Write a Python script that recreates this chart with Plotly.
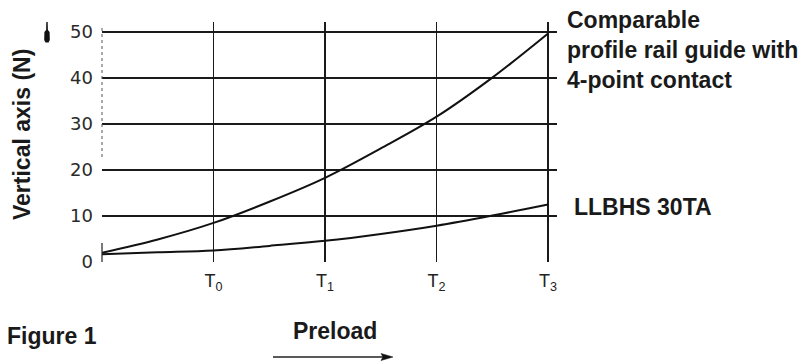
import plotly.graph_objects as go

# ---- data (x in units of the preload tick spacing; 0 = origin, 1..4 = T0..T3)
x_pts = [0, 0.5, 1, 1.5, 2, 2.5, 3, 3.5, 4]
comparable = [2.0, 4.9, 8.5, 13.1, 18.3, 24.7, 31.6, 40.1, 49.7]
llbhs = [1.7, 2.1, 2.5, 3.5, 4.6, 6.1, 7.9, 10.1, 12.5]

x_tick_vals = [1, 2, 3, 4]
x_tick_text = ["T<sub>0</sub>", "T<sub>1</sub>", "T<sub>2</sub>", "T<sub>3</sub>"]
y_tick_vals = [0, 10, 20, 30, 40, 50]
y_tick_text = ["0", "10", "20", "30", "40", "50"]

label_comparable = "Comparable<br>profile rail guide with<br>4-point contact"
label_llbhs = "LLBHS 30TA"
y_title = "Vertical axis (N)"
x_title = "Preload"
fig_title = "Figure 1"

# ---- layout geometry
W, H = 805, 362
L, R, T, B = 102, 248, 22, 100
PW, PH = W - L - R, H - T - B


def px(xp):
    return (xp - L) / PW


def py(yp):
    return (H - B - yp) / PH


BOLD = dict(family="Liberation Sans, Arial, sans-serif", size=23, color="#1a1a1a",
            weight="bold")
LINE = "#1a1a1a"

fig = go.Figure()
fig.add_trace(go.Scatter(x=x_pts, y=comparable, mode="lines",
                         line=dict(color="#111", width=2, shape="spline"),
                         showlegend=False, hoverinfo="skip"))
fig.add_trace(go.Scatter(x=x_pts, y=llbhs, mode="lines",
                         line=dict(color="#111", width=2, shape="spline"),
                         showlegend=False, hoverinfo="skip"))

fig.update_xaxes(range=[0, 4.08], tickvals=x_tick_vals, ticktext=x_tick_text,
                 showgrid=True, gridcolor=LINE, gridwidth=1.3,
                 zeroline=False, showline=False, ticks="",
                 tickfont=dict(family="Liberation Sans Narrow, Liberation Sans, sans-serif",
                               size=18, color="#222"),
                 ticklabelstandoff=6, fixedrange=True)
fig.update_yaxes(range=[0, 52.2], tickvals=y_tick_vals, ticktext=y_tick_text,
                 showgrid=True, gridcolor=LINE, gridwidth=1.3,
                 zeroline=False, showline=False, ticks="",
                 tickfont=dict(family="DejaVu Sans, sans-serif", size=18, color="#2a2a2a"),
                 ticklabelstandoff=8, fixedrange=True)

annotations = [
    dict(text=label_comparable, x=px(565), y=py(50), xref="paper", yref="paper",
         xanchor="left", yanchor="middle", align="left", showarrow=False, font=BOLD),
    dict(text=label_llbhs, x=px(572), y=py(207), xref="paper", yref="paper",
         xanchor="left", yanchor="middle", align="left", showarrow=False, font=BOLD),
    dict(text=y_title, x=px(22), y=py(135), xref="paper", yref="paper",
         xanchor="center", yanchor="middle", textangle=-90, showarrow=False, font=BOLD),
    dict(text=x_title, x=px(334.5), y=py(330.5), xref="paper", yref="paper",
         xanchor="center", yanchor="middle", showarrow=False, font=BOLD),
    dict(text=fig_title, x=px(5), y=py(336), xref="paper", yref="paper",
         xanchor="left", yanchor="middle", showarrow=False, font=BOLD),
]


def path_px(points):
    s = ""
    for i, (a, b) in enumerate(points):
        s += ("M" if i == 0 else "L") + f"{px(a):.5f},{py(b):.5f} "
    return s + "Z"


# small upward marker next to the y axis top
marker_path = path_px([(46.3, 22), (47.7, 22), (47.9, 30), (49.6, 32), (49.8, 40),
                       (48.5, 42.5), (45.5, 42.5), (44.2, 40), (44.4, 32), (46.1, 30)])
# arrow head under "Preload"
head_path = path_px([(393, 357), (381, 353.5), (383, 357), (381, 360.5)])

shapes = [
    dict(type="path", path=marker_path, xref="paper", yref="paper",
         fillcolor="#111", line=dict(width=0)),
    dict(type="line", xref="paper", yref="paper", x0=px(273), x1=px(386),
         y0=py(357), y1=py(357), line=dict(color="#222", width=1.3)),
    dict(type="path", path=head_path, xref="paper", yref="paper",
         fillcolor="#111", line=dict(width=0.5, color="#111")),
    # left edge (dotted in the original print)
    dict(type="line", xref="paper", yref="paper", x0=0, x1=0, y0=py(157), y1=py(25),
         line=dict(color="#555", width=1, dash="dot")),
    dict(type="line", xref="paper", yref="paper", x0=0, x1=0, y0=py(262), y1=py(243),
         line=dict(color="#222", width=1.2)),
]

fig.update_layout(width=W, height=H, margin=dict(l=L, r=R, t=T, b=B),
                  paper_bgcolor="white", plot_bgcolor="white",
                  annotations=annotations, shapes=shapes, showlegend=False)

fig.write_html("out.html", config={"displayModeBar": False, "staticPlot": True},
               post_script="document.body.style.margin='0';document.body.style.overflow='hidden';")
